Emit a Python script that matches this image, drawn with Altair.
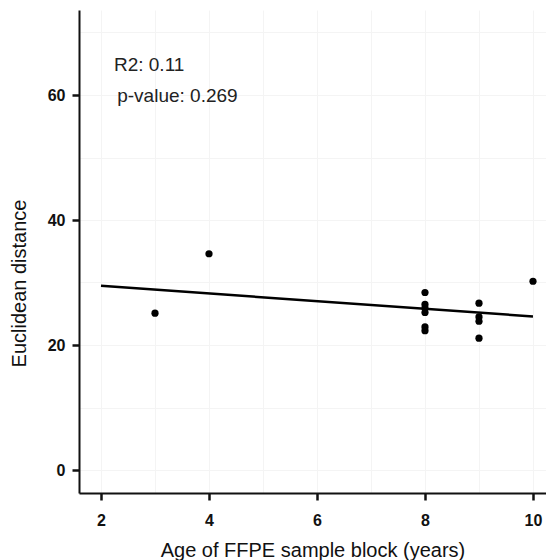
import altair as alt
import pandas as pd

# Data
age = [3, 4, 8, 8, 8, 8, 8, 8, 9, 9, 9, 9, 10]
dist = [25.1, 34.6, 28.4, 26.5, 25.9, 25.2, 22.9, 22.3, 26.7, 24.5, 23.8, 21.1, 30.2]

ann_labels = ["R2: 0.11", "p-value: 0.269"]
ann_x = [2.24, 2.30]
ann_y = [63.9, 58.9]

x_grid_values = [2, 3, 4, 5, 6, 7, 8, 9, 10]
y_grid_values = [0, 10, 20, 30, 40, 50, 60, 70]

df = pd.DataFrame({"age": age, "dist": dist})
ann = pd.DataFrame({"label": ann_labels, "x": ann_x, "y": ann_y})

FONT = "Liberation Sans"

x_scale = alt.Scale(domain=[1.5926, 10.241], nice=False, zero=False)
y_scale = alt.Scale(domain=[-3.68, 73.6], nice=False, zero=False)

x_axis = alt.Axis(
    values=x_grid_values,
    labelExpr="datum.value % 2 == 0 ? datum.label : ''",
    tickOpacity=alt.condition("datum.value % 2 == 0", alt.value(1), alt.value(0)),
    title="Age of FFPE sample block (years)",
    titleFont=FONT, titleFontSize=20, titleFontWeight="normal", titleColor="#111",
    titleY=63, titleBaseline="alphabetic",
    labelFont=FONT, labelFontSize=16, labelFontWeight="bold", labelColor="#111",
    labelPadding=12,
    tickSize=7, tickWidth=2.5, tickColor="#111",
    domainColor="#111", domainWidth=2,
    grid=True, gridColor="#f4f4f4", gridWidth=1,
)
y_axis = alt.Axis(
    values=y_grid_values,
    labelExpr="datum.value % 20 == 0 ? datum.label : ''",
    tickOpacity=alt.condition("datum.value % 20 == 0", alt.value(1), alt.value(0)),
    title="Euclidean distance",
    titleFont=FONT, titleFontSize=20, titleFontWeight="normal", titleColor="#111",
    titleX=-54, titleY=273, titleBaseline="alphabetic",
    labelFont=FONT, labelFontSize=16, labelFontWeight="bold", labelColor="#111",
    labelPadding=7,
    tickSize=7, tickWidth=2.5, tickColor="#111",
    domainColor="#111", domainWidth=2,
    grid=True, gridColor="#f4f4f4", gridWidth=1,
)

base = alt.Chart(df)

points = base.mark_circle(size=52, color="black", opacity=1).encode(
    x=alt.X("age:Q", scale=x_scale, axis=x_axis),
    y=alt.Y("dist:Q", scale=y_scale, axis=y_axis),
)

line = base.transform_regression("age", "dist", extent=[2, 10]).mark_line(
    color="black", strokeWidth=2.5
).encode(x="age:Q", y="dist:Q")

text = alt.Chart(ann).mark_text(
    align="left", baseline="alphabetic", font=FONT, fontSize=19, color="#222"
).encode(x="x:Q", y="y:Q", text="label:N")

chart = alt.layer(line, points, text).properties(
    width=467, height=483,
    autosize=alt.AutoSizeParams(type="none"),
    padding={"left": 71, "top": 2, "right": 0, "bottom": 67},
).configure_view(stroke=None)

chart.save("out.html", embed_options={"renderer": "svg", "actions": False})
